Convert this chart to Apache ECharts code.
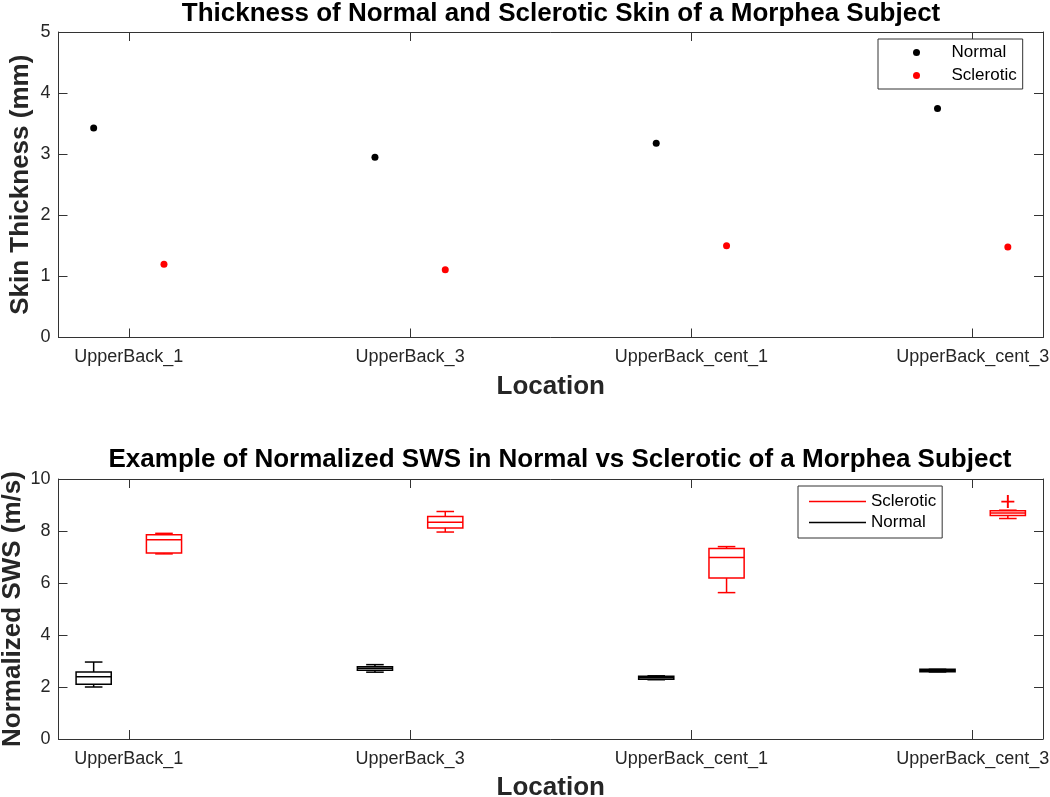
<!DOCTYPE html>
<html>
<head>
<meta charset="utf-8">
<script src="https://cdn.jsdelivr.net/npm/echarts@6/dist/echarts.min.js"></script>
<style>
  html, body { margin: 0; padding: 0; background: #fff; }
  #chart { width: 1050px; height: 797px; }
</style>
</head>
<body>
<div id="chart"></div>
<script>
// locations on the x axis (positions 1..4)
var locations = ["UpperBack_1", "UpperBack_3", "UpperBack_cent_1", "UpperBack_cent_3"];

// top panel: skin thickness (mm)
var normalThickness = [3.43, 2.95, 3.18, 3.75];
var scleroticThickness = [1.20, 1.11, 1.50, 1.48];

// bottom panel: boxplot stats [min, q1, median, q3, max]
var normalSWS = [
  [2.00, 2.11, 2.39, 2.58, 2.96],
  [2.57, 2.64, 2.72, 2.78, 2.86],
  [2.28, 2.30, 2.36, 2.41, 2.43],
  [2.58, 2.59, 2.63, 2.68, 2.68]
];
var scleroticSWS = [
  [7.12, 7.15, 7.66, 7.86, 7.91],
  [7.96, 8.12, 8.34, 8.56, 8.75],
  [5.63, 6.19, 6.98, 7.33, 7.40],
  [8.48, 8.60, 8.69, 8.78, 8.80]
];
// outliers [location index, value]
var scleroticOutliers = [[3, 9.13]];

var thicknessTicks = [0, 1, 2, 3, 4, 5];
var swsTicks = [0, 2, 4, 6, 8, 10];

var offset = 0.125;
var boxWidth = 0.125;
var axisColor = "#333";
var textColor = "#262626";
var fontFamily = "Liberation Sans, Arial, sans-serif";

var tickPos = locations.map(function (d, i) { return i + 1; });

function bottomX(gridIndex) {
  return {
    type: "value", gridIndex: gridIndex, position: "bottom",
    min: 0.75, max: 4.25,
    name: "Location", nameLocation: "middle", nameGap: 36, nameMoveOverlap: false,
    nameTextStyle: { fontSize: 26, fontWeight: "bold", color: textColor, fontFamily: fontFamily },
    axisLine: { show: true, onZero: false, lineStyle: { color: axisColor, width: 1 } },
    axisTick: { show: true, inside: true, length: 9, customValues: tickPos, lineStyle: { color: axisColor } },
    axisLabel: {
      customValues: tickPos, margin: 11, fontSize: 18, color: textColor, fontFamily: fontFamily,
      formatter: function (v) { return locations[Math.round(v) - 1] || ""; }
    },
    splitLine: { show: false }
  };
}
function topX(gridIndex) {
  return {
    type: "value", gridIndex: gridIndex, position: "top",
    min: 0.75, max: 4.25,
    axisLine: { show: true, onZero: false, lineStyle: { color: axisColor, width: 1 } },
    axisTick: { show: true, inside: true, length: 9, customValues: tickPos, lineStyle: { color: axisColor } },
    axisLabel: { show: false },
    splitLine: { show: false }
  };
}
function leftY(gridIndex, ticks, name, nameGap) {
  return {
    type: "value", gridIndex: gridIndex, position: "left",
    min: ticks[0], max: ticks[ticks.length - 1], interval: ticks[1] - ticks[0],
    name: name, nameLocation: "middle", nameGap: nameGap, nameMoveOverlap: false,
    nameTextStyle: { fontSize: 26, fontWeight: "bold", color: textColor, fontFamily: fontFamily },
    axisLine: { show: true, onZero: false, lineStyle: { color: axisColor, width: 1 } },
    axisTick: { show: true, inside: true, length: 9, lineStyle: { color: axisColor } },
    axisLabel: { margin: 8, fontSize: 18, color: textColor, fontFamily: fontFamily },
    splitLine: { show: false }
  };
}
function rightY(gridIndex, ticks) {
  return {
    type: "value", gridIndex: gridIndex, position: "right",
    min: ticks[0], max: ticks[ticks.length - 1], interval: ticks[1] - ticks[0],
    axisLine: { show: true, onZero: false, lineStyle: { color: axisColor, width: 1 } },
    axisTick: { show: true, inside: true, length: 9, lineStyle: { color: axisColor } },
    axisLabel: { show: false },
    splitLine: { show: false }
  };
}

function boxData(stats, shift) {
  return stats.map(function (s, i) { return [i + 1 + shift].concat(s); });
}

function renderBox(color) {
  return function (params, api) {
    var x = api.value(0);
    var cx = api.coord([x, 0])[0];
    var w = api.size([boxWidth, 0])[0];
    var yMin = api.coord([x, api.value(1)])[1];
    var yQ1 = api.coord([x, api.value(2)])[1];
    var yMed = api.coord([x, api.value(3)])[1];
    var yQ3 = api.coord([x, api.value(4)])[1];
    var yMax = api.coord([x, api.value(5)])[1];
    var st = { stroke: color, lineWidth: 1.5, fill: null };
    return {
      type: "group",
      children: [
        { type: "rect", shape: { x: cx - w / 2, y: yQ3, width: w, height: yQ1 - yQ3 }, style: st },
        { type: "line", shape: { x1: cx - w / 2, y1: yMed, x2: cx + w / 2, y2: yMed }, style: st },
        { type: "line", shape: { x1: cx, y1: yQ3, x2: cx, y2: yMax }, style: st },
        { type: "line", shape: { x1: cx, y1: yQ1, x2: cx, y2: yMin }, style: st },
        { type: "line", shape: { x1: cx - w / 4, y1: yMax, x2: cx + w / 4, y2: yMax }, style: st },
        { type: "line", shape: { x1: cx - w / 4, y1: yMin, x2: cx + w / 4, y2: yMin }, style: st }
      ]
    };
  };
}

var chart = echarts.init(document.getElementById("chart"), null, { renderer: "canvas" });

var option = {
  animation: false,
  backgroundColor: "#fff",
  textStyle: { fontFamily: fontFamily },
  title: [
    {
      text: "Thickness of Normal and Sclerotic Skin of a Morphea Subject",
      left: 556, top: -4, textAlign: "center",
      textStyle: { fontSize: 26, fontWeight: "bold", color: "#000", fontFamily: fontFamily }
    },
    {
      text: "Example of Normalized SWS in Normal vs Sclerotic of a Morphea Subject",
      left: 555, top: 442, textAlign: "center",
      textStyle: { fontSize: 26, fontWeight: "bold", color: "#000", fontFamily: fontFamily }
    }
  ],
  legend: [
    {
      orient: "vertical", left: 878, top: 39,
      padding: [5, 6, 5, 35], itemGap: 6,
      itemWidth: 60, itemHeight: 7,
      borderColor: axisColor, borderWidth: 1, backgroundColor: "#fff",
      textStyle: { fontSize: 17, color: "#000", fontFamily: fontFamily },
      data: [
        { name: "Normal", icon: "circle" },
        { name: "Sclerotic", icon: "circle" }
      ]
    },
    {
      orient: "vertical", left: 798, top: 486,
      padding: [7, 6, 7, 11], itemGap: 4,
      itemWidth: 57, itemHeight: 1.5,
      borderColor: axisColor, borderWidth: 1, backgroundColor: "#fff",
      textStyle: { fontSize: 17, color: "#000", fontFamily: fontFamily },
      data: [
        { name: "Sclerotic SWS", icon: "rect", itemStyle: { color: "#ff0000" } },
        { name: "Normal SWS", icon: "rect", itemStyle: { color: "#000000" } }
      ],
      formatter: function (n) { return n.replace(" SWS", ""); }
    }
  ],
  grid: [
    { left: 58.5, right: 7, top: 32, height: 305.5, outerBoundsMode: "none", containLabel: false },
    { left: 58.5, right: 7, top: 479, height: 260, outerBoundsMode: "none", containLabel: false }
  ],
  xAxis: [bottomX(0), topX(0), bottomX(1), topX(1)],
  yAxis: [
    leftY(0, thicknessTicks, "Skin Thickness (mm)", 25),
    rightY(0, thicknessTicks),
    leftY(1, swsTicks, "Normalized SWS (m/s)", 33),
    rightY(1, swsTicks)
  ],
  series: [
    {
      name: "Normal", type: "scatter", xAxisIndex: 0, yAxisIndex: 0,
      symbol: "circle", symbolSize: 7, itemStyle: { color: "#000", opacity: 1 },
      data: normalThickness.map(function (v, i) { return [i + 1 - offset, v]; })
    },
    {
      name: "Sclerotic", type: "scatter", xAxisIndex: 0, yAxisIndex: 0,
      symbol: "circle", symbolSize: 7, itemStyle: { color: "#ff0000", opacity: 1 },
      data: scleroticThickness.map(function (v, i) { return [i + 1 + offset, v]; })
    },
    {
      name: "Normal SWS", type: "custom", xAxisIndex: 2, yAxisIndex: 2,
      itemStyle: { color: "#000" },
      encode: { x: 0, y: [1, 2, 3, 4, 5] },
      renderItem: renderBox("#000"),
      data: boxData(normalSWS, -offset)
    },
    {
      name: "Sclerotic SWS", type: "custom", xAxisIndex: 2, yAxisIndex: 2,
      itemStyle: { color: "#ff0000" },
      encode: { x: 0, y: [1, 2, 3, 4, 5] },
      renderItem: renderBox("#ff0000"),
      data: boxData(scleroticSWS, offset)
    },
    {
      name: "Sclerotic outliers", type: "scatter", xAxisIndex: 2, yAxisIndex: 2,
      symbol: "path://M4.25,0H5.75V4.25H10V5.75H5.75V10H4.25V5.75H0V4.25H4.25Z",
      symbolSize: 13, itemStyle: { color: "#ff0000", opacity: 1 },
      data: scleroticOutliers.map(function (d) { return [d[0] + 1 + offset, d[1]]; })
    }
  ]
};

chart.setOption(option);
</script>
</body>
</html>
